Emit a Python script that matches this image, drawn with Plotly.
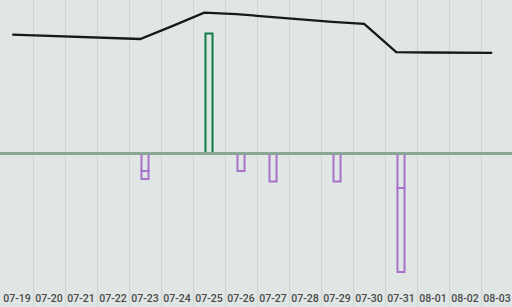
import plotly.graph_objects as go

dates = ["07-19", "07-20", "07-21", "07-22", "07-23", "07-24", "07-25", "07-26",
         "07-27", "07-28", "07-29", "07-30", "07-31", "08-01", "08-02", "08-03"]
line_vals = [88.7, 88.4, 88.0, 87.7, 87.3, 91.5, 95.9, 95.4,
             94.5, 93.6, 92.9, 92.2, 83.0, 82.9, 82.8, 82.8]
up_vals = [None, None, None, None, None, None, 78.2, None,
           None, None, None, None, None, None, None, None]
down_a = [None, None, None, None, -11.4, None, None, -11.4,
          -18.2, None, -18.2, None, -22.5, None, None, None]
down_b = [None, None, None, None, -5.2, None, None, None,
          None, None, None, None, -54.7, None, None, None]

idx = list(range(len(dates)))
line_x = [i - 0.15 for i in idx]

BG = "#dfe6e3"
GREEN = "#0f7a48"
PURPLE = "#a673c9"

fig = go.Figure()
for vals, col in [(up_vals, GREEN), (down_a, PURPLE), (down_b, PURPLE)]:
    fig.add_trace(go.Bar(
        x=idx, y=vals, width=0.22,
        marker=dict(color="rgba(0,0,0,0)", line=dict(color=col, width=2)),
        showlegend=False,
    ))
fig.add_trace(go.Scatter(
    x=line_x, y=line_vals, mode="lines", yaxis="y2",
    line=dict(color="#141a1a", width=2.3), showlegend=False,
))

fig.add_hline(y=0, line=dict(color="#8aa595", width=3), layer="above")

fig.update_layout(
    width=512, height=307,
    margin=dict(l=0, r=0, t=0, b=0),
    paper_bgcolor=BG, plot_bgcolor=BG,
    barmode="relative",
    xaxis=dict(
        range=[-0.53125, 15.46875],
        tickmode="array", tickvals=idx, ticktext=dates,
        ticklabelposition="inside", ticks="",
        tickfont=dict(family="Roboto", size=10.5, color="#4a4a4a", weight=500),
        showgrid=False, zeroline=False, showline=False,
        minor=dict(tickmode="linear", tick0=-0.5, dtick=1, showgrid=True,
                   gridcolor="#cfd3d2", gridwidth=1, ticks=""),
    ),
    yaxis=dict(range=[-100, 100], visible=False, showgrid=False, zeroline=False),
    yaxis2=dict(range=[0, 100], overlaying="y", visible=False, showgrid=False,
                zeroline=False),
)

fig.write_html("out.html")
